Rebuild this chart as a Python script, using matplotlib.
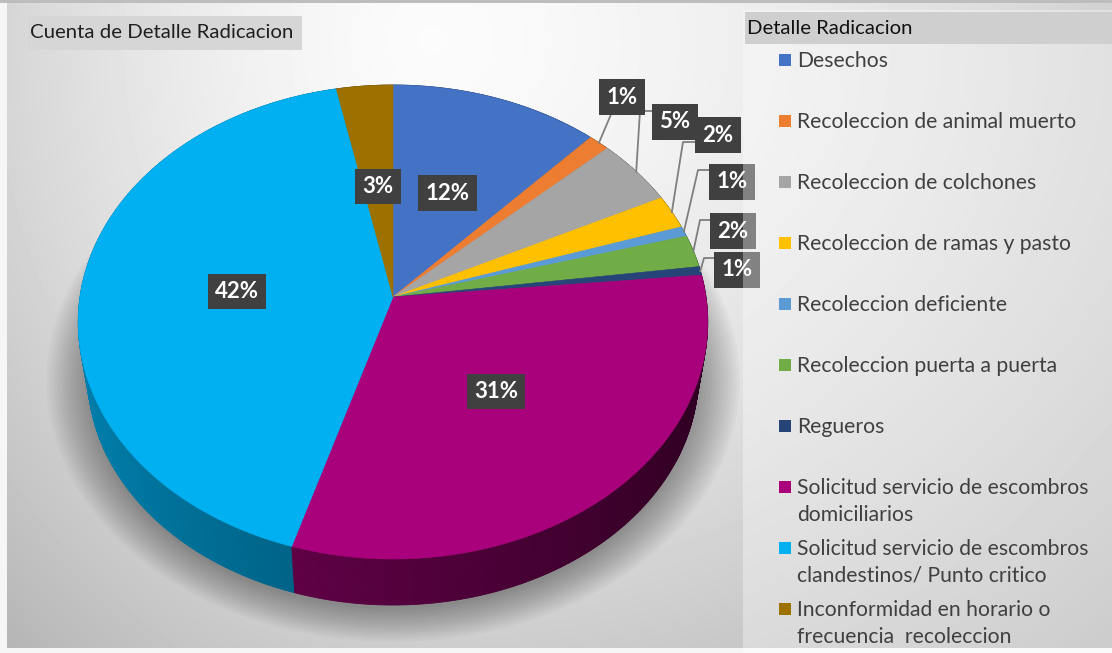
import numpy as np
import matplotlib.pyplot as plt
from matplotlib.patches import Polygon, Rectangle
from matplotlib.collections import PolyCollection

plt.rcParams["font.family"] = ["Lato", "DejaVu Sans"]

categories = [
    "Desechos",
    "Recoleccion de animal muerto",
    "Recoleccion de colchones",
    "Recoleccion de ramas y pasto",
    "Recoleccion deficiente",
    "Recoleccion puerta a puerta",
    "Regueros",
    "Solicitud servicio de escombros\ndomiciliarios",
    "Solicitud servicio de escombros\nclandestinos/ Punto critico",
    "Inconformidad en horario o\nfrecuencia  recoleccion",
]
values = [11.9, 1.2, 4.6, 2.3, 0.7, 2.2, 0.6, 31.2, 42.1, 3.2]
colors = ["#4472C4", "#ED7D31", "#A5A5A5", "#FFC000", "#5B9BD5",
          "#70AD47", "#264478", "#A9007B", "#00B0F0", "#9C7100"]

W, H = 1112, 653
# pie geometry in pixels (tilted disc with a bit of perspective)
CX, CY = 393, 297
A, K = 313, 0.1055
C = 212 * (1 + K) / K
THICK = 46
M = 0.97  # bottom face is further away -> a bit smaller
Y_FRONT = CY + C * (1 / (1 - K) - 1)
YV = (Y_FRONT + THICK - M * Y_FRONT) / (1 - M)


def proj(phi, r=1.0, bottom=False):
    u = r * np.sin(phi)
    v = r * np.cos(phi)
    s = 1 / (1 + K * v)
    x, y = CX + A * u * s, CY + C * (s - 1)
    if bottom:
        x, y = CX + M * (x - CX), YV + M * (y - YV)
    return x, y


def darker(c, f):
    rgb = np.array(plt.matplotlib.colors.to_rgb(c))
    return tuple(rgb * f)


fig = plt.figure(figsize=(W / 100, H / 100), dpi=100)
ax = fig.add_axes([0, 0, 1, 1])
ax.set_xlim(0, W)
ax.set_ylim(H, 0)
ax.axis("off")

# background
yy, xx = np.mgrid[0:H, 0:W]
dx = np.where(xx < 430, xx - 430, (xx - 430) / 1.5)
d = np.sqrt(dx ** 2 + ((yy - 40) / 1.25) ** 2)
g = 0.985 - 0.2 * np.clip(d / 520, 0, 1.3) ** 1.5
ax.imshow(g, cmap="gray", vmin=0, vmax=1, extent=(0, W, H, 0), zorder=0)
ax.add_patch(Rectangle((0, 0), 7, H, fc="#f6f6f6", ec="none", zorder=1))
ax.add_patch(Rectangle((0, 648), W, 5, fc="#f6f6f6", ec="none", zorder=1))
ax.add_patch(Rectangle((0, 0), W, 3, fc="#bdbdbd", ec="none", zorder=1))

# shadow under the pie
frac = np.array(values) / sum(values)
bounds = np.concatenate([[0], np.cumsum(frac)]) * 2 * np.pi
ring = np.linspace(0, 2 * np.pi, 360)
bx, by = proj(ring, 1.0, bottom=True)
bcy = by.mean()
for i in range(16):
    sc = 1.0 + 0.009 * i
    px = CX + (bx - CX) * sc
    py = bcy + (by - bcy) * sc + 4
    ax.add_patch(Polygon(np.column_stack([px, py]), closed=True,
                         fc="black", ec="none", alpha=0.025, zorder=2))

# sides
quads, qcols, depth = [], [], []
for i in range(len(values)):
    steps = max(2, int(np.degrees(bounds[i + 1] - bounds[i]) * 2))
    ph = np.linspace(bounds[i], bounds[i + 1], steps + 1)
    for a0, a1 in zip(ph[:-1], ph[1:]):
        x0, y0 = proj(a0)
        x1, y1 = proj(a1)
        x2, y2 = proj(a1, 1.0, bottom=True)
        x3, y3 = proj(a0, 1.0, bottom=True)
        quads.append([(x0, y0), (x1, y1), (x2, y2), (x3, y3)])
        am = (a0 + a1) / 2
        qcols.append(darker(colors[i], 0.5 - 0.22 * np.sin(am)))
        depth.append(np.cos(am))
order = np.argsort(depth)[::-1]
pc = PolyCollection([quads[j] for j in order],
                    facecolors=[qcols[j] for j in order],
                    edgecolors=[qcols[j] for j in order],
                    linewidths=0.6, zorder=3)
ax.add_collection(pc)

# top face
for i in range(len(values)):
    ph = np.linspace(bounds[i], bounds[i + 1], 200)
    x, y = proj(ph)
    pts = np.column_stack([np.r_[CX, x], np.r_[CY, y]])
    ax.add_patch(Polygon(pts, closed=True, fc=colors[i], ec=colors[i],
                         lw=0.4, zorder=4))

# data labels
box = dict(boxstyle="square,pad=0.32", fc="#404040", ec="none")
outside_pos = {1: (622, 97), 2: (675, 122), 3: (718, 135),
               4: (732, 182), 5: (733, 231), 6: (737, 270)}
elbows = {1: [(612, 112)], 2: [(652, 111), (640, 111)],
          3: [(696, 142), (683, 142)], 4: [(709, 170), (698, 170)],
          5: [(711, 220), (700, 220)], 6: [(715, 258), (704, 258)]}
for i, f in enumerate(frac):
    mid = (bounds[i] + bounds[i + 1]) / 2
    txt = f"{round(f * 100)}%"
    if i in outside_pos:
        ex, ey = proj(mid)
        pts = elbows[i] + [(ex, ey)]
        ax.plot([p[0] for p in pts], [p[1] for p in pts], color="#7f7f7f",
                lw=1.3, zorder=5)
        lx, ly = outside_pos[i]
    else:
        lx, ly = proj(mid, 0.5)
    ax.text(lx, ly, txt, ha="center", va="center", color="white",
            fontsize=16, fontweight="bold", bbox=box, zorder=6)

# title
ax.add_patch(Rectangle((28, 16), 274, 34, fc="#d6d6d6", ec="none", zorder=7))
ax.text(30, 33, "Cuenta de Detalle Radicacion", fontsize=14.7,
        color="#1f1f1f", va="center", ha="left", zorder=8)

# legend panel
ax.add_patch(Rectangle((743, 10), W - 743, H - 10, fc="white", ec="none",
                       alpha=0.35, zorder=7))
ax.add_patch(Rectangle((745, 12), W - 745, 32, fc="#cfcfcf", ec="none",
                       zorder=8))
ax.text(747, 28, "Detalle Radicacion", fontsize=14.6, color="#111111",
        va="center", ha="left", zorder=9)
for i, lab in enumerate(categories):
    y0 = 60 + 61 * i
    ax.add_patch(Rectangle((779, y0 - 6), 12, 12, fc=colors[i], ec="none",
                           zorder=9))
    for j, line in enumerate(lab.split("\n")):
        ax.text(797, y0 + 1 + 27 * j, line, fontsize=15.2, color="#404040",
                va="center", ha="left", zorder=9)

fig.savefig("out.png", dpi=100)
